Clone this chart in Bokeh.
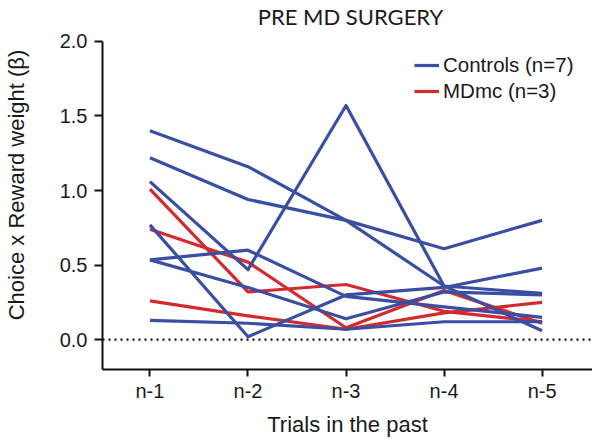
from bokeh.plotting import figure
from bokeh.models import Legend, LegendItem, Span, FixedTicker, PrintfTickFormatter, Range1d, Label
from bokeh.embed import file_html
from bokeh.resources import INLINE

# ---- data ----
lags = [1, 2, 3, 4, 5]
lag_labels = ["n-1", "n-2", "n-3", "n-4", "n-5"]
y_ticks = [0.0, 0.5, 1.0, 1.5, 2.0]

control_1 = [1.40, 1.16, 0.80, 0.36, 0.31]
control_2 = [1.22, 0.94, 0.80, 0.61, 0.80]
control_3 = [1.06, 0.47, 1.57, 0.36, 0.06]
control_4 = [0.77, 0.02, 0.30, 0.35, 0.48]
control_5 = [0.535, 0.60, 0.29, 0.22, 0.15]
control_6 = [0.535, 0.35, 0.14, 0.32, 0.30]
control_7 = [0.13, 0.11, 0.07, 0.12, 0.12]
controls = [control_1, control_2, control_3, control_4, control_5, control_6, control_7]

mdmc_1 = [1.01, 0.32, 0.37, 0.19, 0.12]
mdmc_2 = [0.74, 0.52, 0.08, 0.33, 0.11]
mdmc_3 = [0.26, 0.16, 0.07, 0.18, 0.25]
mdmc = [mdmc_1, mdmc_2, mdmc_3]

TITLE = "PRE MD SURGERY"
BLUE = "#3a4ea3"
RED = "#d42a2e"
FONT = "Liberation Sans"

# frame spans the full height above the x axis; the left axis line is bounded to [-0.2, 2.0]
p = figure(width=592, height=439, output_backend="svg", toolbar_location=None,
           x_range=Range1d(0.516, 5.514), y_range=Range1d(-0.2, 2.274),
           min_border_left=96, min_border_right=0, min_border_top=0, min_border_bottom=69)

# title as a label placed in screen px from the frame's bottom-left corner
title = Label(x=248, y=353, x_units="screen", y_units="screen", text=TITLE,
              text_align="center", text_baseline="alphabetic",
              text_font="Lato", text_font_size="22px", text_color="#1a1a1a")
p.add_layout(title)

p.outline_line_color = None
p.xgrid.visible = False
p.ygrid.visible = False

zero = Span(location=0, dimension="width", line_color="#111111", line_width=2.2, line_dash="2 4")
p.add_layout(zero)

red_renderers = []
for s in mdmc:
    r = p.line(lags, s, line_color=RED, line_width=3.2, line_join="round")
    red_renderers.append(r)
blue_renderers = []
for s in controls:
    r = p.line(lags, s, line_color=BLUE, line_width=3.2, line_join="round")
    blue_renderers.append(r)

legend = Legend(items=[LegendItem(label="Controls (n=7)", renderers=[blue_renderers[0]]),
                       LegendItem(label="MDmc (n=3)", renderers=[red_renderers[0]])],
                location=(312, 265))
legend.background_fill_alpha = 0
legend.border_line_color = None
legend.padding = 0
legend.margin = 0
legend.spacing = 0
legend.glyph_width = 25
legend.glyph_height = 26
legend.label_height = 26
legend.label_standoff = 4
legend.label_text_font = FONT
legend.label_text_font_size = "20.5px"
legend.label_text_color = "#1a1a1a"
p.add_layout(legend, "center")

for ax in (p.xaxis[0], p.yaxis[0]):
    ax.axis_line_width = 2
    ax.axis_line_color = "#111111"
    ax.major_tick_line_width = 2
    ax.major_tick_line_color = "#111111"
    ax.minor_tick_line_color = None
    ax.major_tick_in = 0
    ax.major_label_text_font = FONT
    ax.major_label_text_font_size = "20px"
    ax.major_label_text_color = "#1a1a1a"
    ax.axis_label_text_font = FONT
    ax.axis_label_text_font_size = "22px"
    ax.axis_label_text_font_style = "normal"
    ax.axis_label_text_color = "#1a1a1a"

p.xaxis.ticker = FixedTicker(ticks=lags)
p.xaxis.major_label_overrides = {k: v for k, v in zip(lags, lag_labels)}
p.xaxis.major_tick_out = 7
p.xaxis.major_label_standoff = 3
p.xaxis.axis_label = "Trials in the past"
p.xaxis.axis_label_standoff = 7

p.yaxis.ticker = FixedTicker(ticks=y_ticks)
p.yaxis.bounds = (-0.2, 2.0)
p.yaxis.formatter = PrintfTickFormatter(format="%.1f")
p.yaxis.major_tick_out = 8
p.yaxis.major_label_standoff = 7
p.yaxis.axis_label = "Choice x Reward weight (\u03b2)"
p.yaxis.axis_label_standoff = 28

open("out.html", "w").write(file_html(p, INLINE))
